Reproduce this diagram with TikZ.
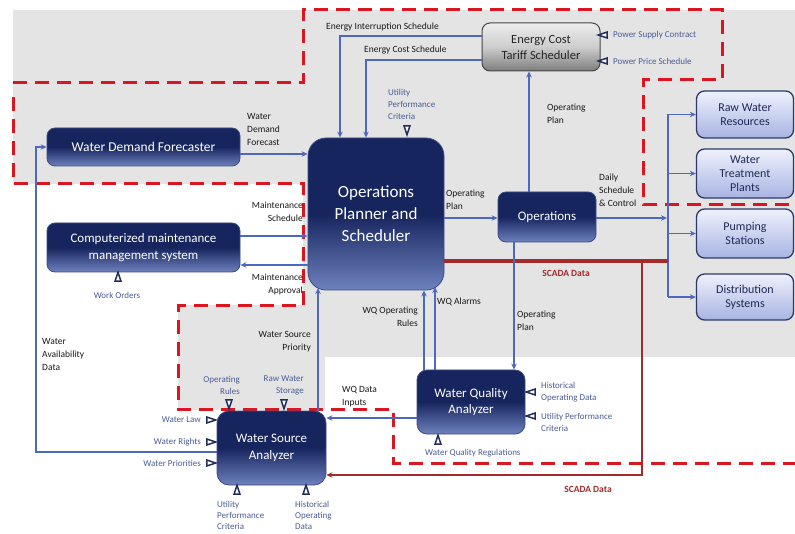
\documentclass[tikz,border=0pt]{standalone}
\usepackage{fontspec}
\setmainfont{Carlito}
\usetikzlibrary{arrows.meta,shapes.geometric}
\definecolor{navyA}{RGB}{23,37,94}
\definecolor{navyB}{RGB}{110,130,190}
\definecolor{navyE}{RGB}{60,75,130}
\definecolor{flow}{RGB}{78,104,190}
\definecolor{scada}{RGB}{165,42,42}
\definecolor{dashred}{RGB}{220,22,32}
\definecolor{bgc}{RGB}{228,228,228}
\definecolor{inlbl}{RGB}{74,92,150}
\definecolor{lblc}{RGB}{25,25,25}
\definecolor{lbtop}{RGB}{238,241,253}
\definecolor{lbbot}{RGB}{168,180,226}
\definecolor{lbdraw}{RGB}{45,58,105}
\definecolor{lbtext}{RGB}{30,40,85}
\definecolor{gtop}{RGB}{236,236,236}
\definecolor{gmid}{RGB}{205,205,205}
\definecolor{gbot}{RGB}{125,125,125}
\definecolor{trc}{RGB}{35,45,90}
\tikzset{
  navybox/.style={rounded corners=8pt, draw=navyE, line width=0.8pt,
    top color=navyA, bottom color=navyB, middle color=navyA,
    text=white, align=center, inner sep=0pt},
  lbbox/.style={rounded corners=8pt, draw=lbdraw, line width=1.3pt,
    top color=lbtop, bottom color=lbbot,
    text=lbtext, align=center, inner sep=0pt, minimum width=97pt,
    font=\fontsize{12}{14}\selectfont},
  greybox/.style={rounded corners=8pt, draw={rgb,255:red,70;green,70;blue,70}, line width=1pt,
    top color=gtop, bottom color=gbot, middle color=gmid,
    text=black!85, align=center, inner sep=0pt},
  flw/.style={draw=flow, line width=1.8pt, -{Stealth[length=6pt,width=5.5pt]}},
  flwline/.style={draw=flow, line width=1.8pt},
  scadathick/.style={draw=scada, line width=3.5pt},
  scadathin/.style={draw=scada, line width=1.6pt, -{Stealth[length=6pt,width=5.5pt]}},
  reddash/.style={draw=dashred, line width=3pt, dash pattern=on 14pt off 8pt},
  lbl/.style={text=lblc, inner sep=0pt, font=\fontsize{9.5}{13}\selectfont},
  inl/.style={text=inlbl, inner sep=0pt, font=\fontsize{9}{12}\selectfont},
  scl/.style={text=scada, inner sep=0pt, font=\bfseries\fontsize{9.5}{12}\selectfont},
  tri/.style={shape=isosceles triangle, isosceles triangle stretches, draw=trc,
    line width=1.5pt, fill=white, inner sep=0pt, minimum width=6pt, minimum height=9pt},
}
\begin{document}
\begin{tikzpicture}[x=1pt,y=-1pt]
\useasboundingbox (0,0) rectangle (795,534);
% background
\fill[bgc] (13,10) -- (795,10) -- (795,357) -- (325,357) -- (325,410) -- (178,410)
  -- (178,305) -- (303,305) -- (303,184) -- (13,184) -- cycle;
% dashed boundaries
\draw[reddash] (13,83) -- (303,83) -- (303,10) -- (722,10) -- (722,80) -- (643,80) -- (643,205) -- (795,205);
\draw[reddash] (13,97) -- (13,184) -- (303,184) -- (303,306) -- (178,306) -- (178,409) -- (393,409) -- (393,463) -- (795,463);

% main nodes
\node[navybox, minimum width=193pt, minimum height=38pt, font=\fontsize{13.5}{16}\selectfont] (wdf) at (143.5,147) {Water Demand Forecaster};
\node[navybox, minimum width=193pt, minimum height=49pt, font=\fontsize{13}{17}\selectfont] (cmms) at (143.5,247.5) {Computerized maintenance\\management system};
\node[navybox, rounded corners=18pt, minimum width=136pt, minimum height=152pt, font=\fontsize{17}{22}\selectfont] (ops) at (376,214) {Operations\\Planner and\\Scheduler};
\node[navybox, minimum width=98pt, minimum height=50pt, font=\fontsize{13}{16}\selectfont] (oper) at (547,217) {Operations};
\node[greybox, minimum width=118pt, minimum height=48pt, font=\fontsize{12.5}{16}\selectfont] (ects) at (541,47) {Energy Cost\\Tariff Scheduler};
\node[lbbox, minimum height=47pt] (raw) at (745,114.5) {Raw Water\\Resources};
\node[lbbox, minimum height=49pt] (wtp) at (745,173.5) {Water\\Treatment\\Plants};
\node[lbbox, minimum height=49pt] (pump) at (745,233.5) {Pumping\\Stations};
\node[lbbox, minimum height=46pt] (dist) at (745,297) {Distribution\\Systems};
\node[navybox, rounded corners=10pt, minimum width=108pt, minimum height=64pt, font=\fontsize{13}{16}\selectfont] (wqa) at (471,402) {Water Quality\\Analyzer};
\node[navybox, rounded corners=12pt, minimum width=109pt, minimum height=74pt, font=\fontsize{13}{17}\selectfont] (wsa) at (271.5,448) {Water Source\\Analyzer};

% helper coordinates
\coordinate (wad) at (36,452);
\coordinate (bus) at (668,218);
\coordinate (sc1) at (642,261);
\coordinate (sc2) at (642,475);
\coordinate (wqal) at (435,287);
\coordinate (wspr) at (318,288);

% connectors
\draw[flw] (wdf.east |- 0,154) -- (ops.west |- 0,154);
\draw[flw] (wsa.west |- wad) -- (wad) |- (wdf.west);
\draw[flw] (cmms.east |- 0,236) -- (ops.west |- 0,236);
\draw[flw] (ops.west |- 0,265) -- (cmms.east |- 0,265);
\draw[flw] (ects.west |- 0,36) -| (ops.north -| 340,0);
\draw[flw] (ects.west |- 0,60) -| (ops.north -| 366,0);
\draw[flw] (oper.north -| 529,0) -- (ects.south -| 529,0);
\draw[flw] (ops.east |- 0,218) -- (oper.west |- 0,218);
\draw[flw] (oper.east |- bus) -- ([xshift=-1pt]bus);
\draw[flwline] (bus |- raw.west) -- (bus |- dist.west);
\draw[flw] (bus |- raw.west) -- (raw.west);
\draw[flw] (bus |- wtp.west) -- (wtp.west);
\draw[flw] (bus |- pump.west) -- (pump.west);
\draw[flw] (bus |- dist.west) -- (dist.west);
\draw[scadathick] (ops.east |- sc1) -- (bus |- sc1);
\draw[scadathin] (sc1) -- (sc2) -- (wsa.east |- sc2);
\draw[flw] (wqa.north -| 424,0) -- (ops.south -| 424,0);
\draw[flw] (wqa.north -| wqal) -- (wqal);
\draw[flw] (wsa.north -| wspr) -- (wspr);
\draw[flw] (oper.south -| 514,0) -- (wqa.north -| 514,0);
\draw[flw] (wqa.west |- 0,418) -- (wsa.east |- 0,418);

% black labels
\node[lbl, anchor=west, align=left] (lwdf) at (247,129) {Water\\Demand\\Forecast};
\node[lbl, anchor=east, align=right] (lms) at (303,212) {Maintenance\\Schedule};
\node[lbl, anchor=east, align=right] (lma) at (303,284) {Maintenance\\Approval};
\node[lbl, anchor=west] (leis) at (326,27) {Energy Interruption Schedule};
\node[lbl, anchor=west] (lecs) at (364,50) {Energy Cost Schedule};
\node[lbl, anchor=west, align=left] (lop1) at (547,114) {Operating\\Plan};
\node[lbl, anchor=west, align=left] (lop2) at (446,200) {Operating\\Plan};
\node[lbl, anchor=west, align=left] (ldsc) at (599,190) {Daily\\Schedule\\\& Control};
\node[lbl, anchor=east, align=right] (lwqor) at (418,317) {WQ Operating\\Rules};
\node[lbl, anchor=west] (lwqa) at (437,302) {WQ Alarms};
\node[lbl, anchor=west, align=left] (lop3) at (517,321) {Operating\\Plan};
\node[lbl, anchor=east, align=right] (lwsp) at (311,342) {Water Source\\Priority};
\node[lbl, anchor=west, align=left] (lwad) at (42,354) {Water\\Availability\\Data};
\node[lbl, anchor=west, align=left] (lwqd) at (342,397) {WQ Data\\Inputs};
\node[scl] (lsc1) at (566,273) {SCADA Data};
\node[scl] (lsc2) at (588,489) {SCADA Data};

% input markers
\node[tri, shape border rotate=180] (t1) at (605,35) {};
\node[tri, shape border rotate=180] (t2) at (605,61) {};
\node[inl, anchor=west] (i1) at (613,35) {Power Supply Contract};
\node[inl, anchor=west] (i2) at (613,61) {Power Price Schedule};
\node[tri, shape border rotate=270] (t3) at (407,128) {};
\node[inl, anchor=west, align=left] (i3) at (388,104) {Utility\\Performance\\Criteria};
\node[tri, shape border rotate=90] (t4) at (118,279) {};
\node[inl] (i4) at (117,295) {Work Orders};
\node[tri, shape border rotate=270] (t5) at (229,402) {};
\node[tri, shape border rotate=270] (t6) at (284,402) {};
\node[inl, anchor=east, align=right] (i5) at (240,385) {Operating\\Rules};
\node[inl, anchor=east, align=right] (i6) at (304,385) {Raw Water\\Storage};
\node[tri, shape border rotate=0] (t7) at (209,420) {};
\node[tri, shape border rotate=0] (t8) at (209,442) {};
\node[tri, shape border rotate=0] (t9) at (209,463) {};
\node[inl, anchor=east] (i7) at (201,420) {Water Law};
\node[inl, anchor=east] (i8) at (201,442) {Water Rights};
\node[inl, anchor=east] (i9) at (201,463) {Water Priorities};
\node[tri, shape border rotate=90] (t10) at (237,492) {};
\node[tri, shape border rotate=90] (t11) at (306,492) {};
\node[inl, anchor=north west, align=left, font=\fontsize{9}{11}\selectfont] (i10) at (217,501) {Utility\\Performance\\Criteria};
\node[inl, anchor=north west, align=left, font=\fontsize{9}{11}\selectfont] (i11) at (295,501) {Historical\\Operating\\Data};
\node[tri, shape border rotate=180] (t12) at (533,392) {};
\node[tri, shape border rotate=180] (t13) at (533,416) {};
\node[inl, anchor=west, align=left] (i12) at (541,392) {Historical\\Operating Data};
\node[inl, anchor=west, align=left] (i13) at (541,422) {Utility Performance\\Criteria};
\node[tri, shape border rotate=90] (t14) at (438,442) {};
\node[inl, anchor=west] (i14) at (425,453) {Water Quality Regulations};
\end{tikzpicture}
\end{document}
